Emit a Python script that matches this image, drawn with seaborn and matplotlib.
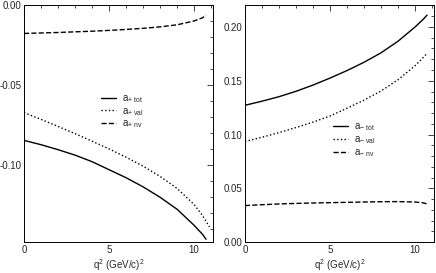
import numpy as np
import pandas as pd
import seaborn as sns
from matplotlib import pyplot as plt
from matplotlib.ticker import MultipleLocator

# q^2 sample points (GeV/c)^2
q2 = [0, 1, 2, 3, 4, 5, 6, 7, 8, 9, 10, 10.5, 10.7]
q2_val_left = [0, 1, 2, 3, 4, 5, 6, 7, 8, 9, 10, 10.5, 10.9]

# left panel: a_+ form factors
ap_tot = [-0.0845, -0.0872, -0.0903, -0.0937, -0.0978, -0.1028, -0.1078, -0.1135, -0.1200, -0.1275, -0.1375, -0.1432, -0.1462]
ap_val = [-0.0672, -0.0714, -0.0758, -0.0803, -0.0850, -0.0898, -0.0950, -0.1006, -0.1070, -0.1145, -0.1245, -0.1315, -0.1385]
ap_nv = [-0.0178, -0.0175, -0.0172, -0.0168, -0.0164, -0.0159, -0.0153, -0.0146, -0.0137, -0.0124, -0.0100, -0.0080, -0.0064]

# right panel: a_- form factors
am_tot = [0.1272, 0.1310, 0.1352, 0.1402, 0.1460, 0.1525, 0.1595, 0.1672, 0.1760, 0.1868, 0.2000, 0.2075, 0.2110]
am_val = [0.0935, 0.0975, 0.1018, 0.1065, 0.1116, 0.1172, 0.1245, 0.1320, 0.1405, 0.1510, 0.1640, 0.1720, 0.1755]
am_nv = [0.0340, 0.0348, 0.0355, 0.0360, 0.0364, 0.0367, 0.0370, 0.0373, 0.0376, 0.0377, 0.0373, 0.0365, 0.0355]

sns.set_style("white")
plt.rcParams['font.family'] = ['Liberation Sans', 'DejaVu Sans']
plt.rcParams['font.size'] = 7
plt.rcParams['mathtext.fontset'] = 'custom'
plt.rcParams['mathtext.rm'] = 'Liberation Sans'
plt.rcParams['mathtext.it'] = 'Liberation Sans'

fig, axes = plt.subplots(1, 2, figsize=(4.36, 2.73), dpi=100)
fig.subplots_adjust(left=0.055, right=0.995, top=0.982, bottom=0.113, wspace=0.17)

styles = ['-', ':', '--']
panels = [
    (axes[0], [q2, q2_val_left, q2], [ap_tot, ap_val, ap_nv], ['+ tot', '+ val', '+ nv'], (-0.148, 0.0)),
    (axes[1], [q2, q2, q2], [am_tot, am_val, am_nv], ['- tot', '- val', '- nv'], (0.0, 0.2205)),
]

for ax, xs, series, subs, ylim in panels:
    for x, vals, ls, sub in zip(xs, series, styles, subs):
        df = pd.DataFrame({'q2': x, 'a': vals})
        sns.lineplot(data=df, x='q2', y='a', ax=ax, color='black', lw=1.0,
                     linestyle=ls, label=r'a$_{\mathrm{' + sub.replace(' ', r'\ ') + '}}$')
    ax.set_xlim(0, 11.1)
    ax.set_ylim(*ylim)
    ax.xaxis.set_major_locator(MultipleLocator(5))
    ax.xaxis.set_minor_locator(MultipleLocator(1))
    ax.yaxis.set_major_locator(MultipleLocator(0.05))
    ax.yaxis.set_minor_locator(MultipleLocator(0.01))
    ax.yaxis.set_major_formatter(lambda v, p: f"{v:.2f}")
    ax.tick_params(which='both', direction='in', top=True, right=True, pad=2, labelsize=7)
    ax.tick_params(which='major', length=4, width=0.6)
    ax.tick_params(which='minor', length=2, width=0.6)
    for s in ax.spines.values():
        s.set_linewidth(0.7)
        s.set_color('black')
    ax.set_xlabel(r'q$^2$ (GeV/c)$^2$', fontsize=7, labelpad=1.5)
    ax.set_ylabel('')

axes[0].legend(loc='center', bbox_to_anchor=(0.52, 0.55), frameon=False, fontsize=7,
               handlelength=1.6, handletextpad=0.6, labelspacing=0.1)
axes[1].legend(loc='center', bbox_to_anchor=(0.58, 0.43), frameon=False, fontsize=7,
               handlelength=1.6, handletextpad=0.6, labelspacing=0.1)

plt.savefig('out.png', dpi=100)
